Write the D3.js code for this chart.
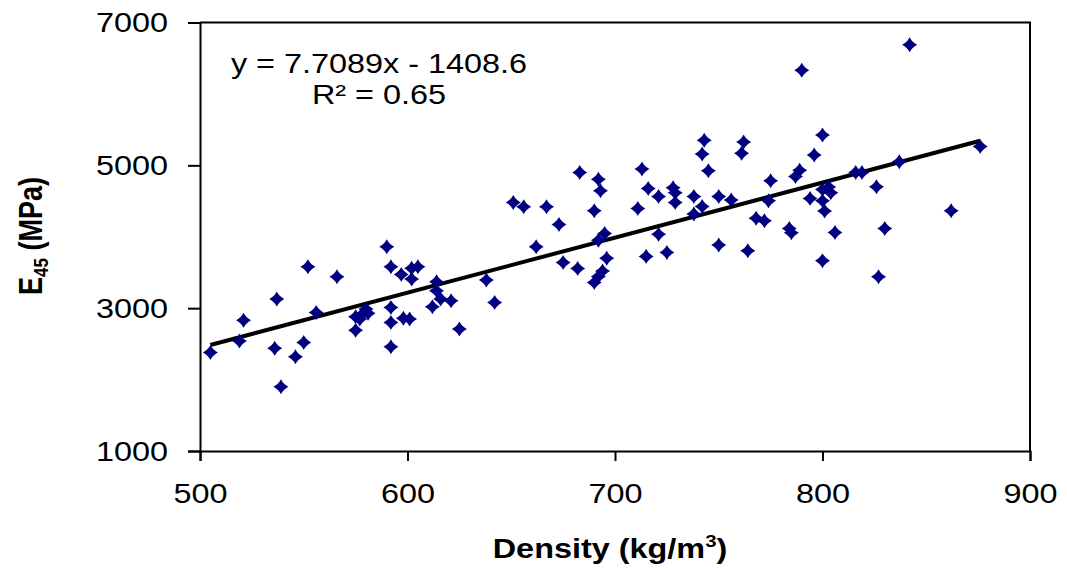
<!doctype html>
<html>
<head>
<meta charset="utf-8">
<title>E45 vs Density</title>
<script src="https://cdn.jsdelivr.net/npm/d3@7"></script>
<style>
  body { margin: 0; background: #fff; }
  text { font-family: "Liberation Sans", Arial, sans-serif; fill: #000; }
</style>
</head>
<body>
<svg id="chart" width="1067" height="569"></svg>
<script>
// density (kg/m3) and E45 (MPa)
var density = [505, 519, 521, 537, 536, 539, 546, 550, 552, 556,
  566, 575, 575, 577, 580, 581, 578, 590, 592, 592,
  592, 592, 597, 602, 605, 602, 598, 601, 614, 614,
  616, 612, 621, 625, 638, 642, 651, 656, 667, 673,
  662, 675, 682, 683, 692, 693, 690, 692, 695, 696,
  694, 692, 690, 713, 716, 721, 711, 721, 715, 725,
  728, 729, 729, 738, 742, 738, 743, 742, 745, 750,
  750, 762, 761, 756, 764, 775, 774, 768, 772, 796,
  800, 787, 789, 784, 785, 794, 800, 803, 804, 800,
  801, 806, 800, 816, 819, 826, 830, 827, 837, 876,
  862, 790, 842];
var e45 = [2380, 2540, 2830, 3130, 2440, 1900, 2320, 2520, 3580, 2940,
  3440, 2880, 2690, 2850, 2990, 2930, 2910, 3860, 3580, 3010,
  2800, 2460, 3470, 3560, 3580, 3410, 2860, 2850, 3370, 3245,
  3130, 3020, 3105, 2710, 3395, 3080, 4480, 4420, 4420, 4170,
  3860, 3640, 3555, 4900, 4805, 4645, 4365, 3950, 4045, 3700,
  3520, 3445, 3360, 4950, 4675, 4565, 4395, 4035, 3725, 3780,
  4685, 4617, 4480, 4565, 4425, 4320, 5350, 5157, 4925, 4565,
  3885, 5325, 5170, 4515, 3805, 4785, 4505, 4260, 4225, 5145,
  5425, 4845, 4930, 4115, 4055, 4535, 4660, 4695, 4615, 4505,
  4360, 4060, 3665, 4900, 4900, 4700, 4115, 3440, 5050, 5265,
  4365, 6330, 6690];

var xTicks = [500, 600, 700, 800, 900];
var yTicks = [1000, 3000, 5000, 7000];

// linear trendline as printed on the chart
var slope = 7.7089;
var intercept = -1408.6;
var eqLines = ["y = 7.7089x - 1408.6", "R² = 0.65"];

var svg = d3.select("#chart");
var sx = 1.2; // the picture's text is a bit wide

var x = d3.scaleLinear().domain([500, 900]).range([200, 1030]);
var y = d3.scaleLinear().domain([1000, 7000]).range([451, 22.5]);

// frame (top and right)
svg.append("path")
  .attr("d", "M" + x(500) + "," + y(7000) + "H" + x(900) + "V" + y(1000))
  .attr("fill", "none")
  .attr("stroke", "#000")
  .attr("stroke-width", 2);

var xAxis = svg.append("g")
  .attr("transform", "translate(0," + y(1000) + ")")
  .call(d3.axisBottom(x).tickValues(xTicks).tickSize(10).tickFormat(d3.format("d")));

var yAxis = svg.append("g")
  .attr("transform", "translate(" + x(500) + ",0)")
  .call(d3.axisLeft(y).tickValues(yTicks).tickSize(12).tickFormat(d3.format("d")));

[xAxis, yAxis].forEach(function (g) {
  g.select(".domain").attr("stroke", "#000").attr("stroke-width", 2);
  g.selectAll(".tick line").attr("stroke", "#000").attr("stroke-width", 2);
  g.selectAll(".tick text")
    .attr("font-family", "Liberation Sans, Arial, sans-serif")
    .attr("font-size", 27)
    .attr("fill", "#000");
});

xAxis.selectAll(".tick text")
  .attr("y", 0).attr("dy", null)
  .attr("transform", "translate(0,52) scale(" + sx + ",1)");

yAxis.selectAll(".tick text")
  .attr("x", 0).attr("dy", "0.35em")
  .attr("transform", "translate(-32,0) scale(" + sx + ",1)");

// trendline
var xMin = d3.min(density), xMax = d3.max(density);
svg.append("line")
  .attr("x1", x(xMin)).attr("y1", y(slope * xMin + intercept))
  .attr("x2", x(xMax)).attr("y2", y(slope * xMax + intercept))
  .attr("stroke", "#000")
  .attr("stroke-width", 4);

// concave diamond marker
var diamond = "M0,-7.5Q2.5,-2.5 7.5,0Q2.5,2.5 0,7.5Q-2.5,2.5 -7.5,0Q-2.5,-2.5 0,-7.5Z";
svg.append("g").selectAll("path")
  .data(density)
  .join("path")
  .attr("d", diamond)
  .attr("fill", "#000080")
  .attr("transform", function (d, i) {
    return "translate(" + x(d) + "," + y(e45[i]) + ")";
  });

// equation
svg.append("g").selectAll("text")
  .data(eqLines)
  .join("text")
  .attr("text-anchor", "middle")
  .attr("font-size", 27)
  .attr("transform", function (d, i) {
    return "translate(379," + (73 + i * 31) + ") scale(" + sx + ",1)";
  })
  .text(function (d) { return d; });

// axis titles
var xt = svg.append("text")
  .attr("text-anchor", "middle")
  .attr("font-size", 27)
  .attr("font-weight", "bold")
  .attr("transform", "translate(610,558) scale(" + sx + ",1)");
xt.append("tspan").text("Density (kg/m");
xt.append("tspan").attr("font-size", 17).attr("dy", -11).text("3");
xt.append("tspan").attr("dy", 11).text(")");

var yt = svg.append("text")
  .attr("text-anchor", "middle")
  .attr("font-size", 27)
  .attr("font-weight", "bold")
  .attr("transform", "translate(42,236) scale(" + sx + ",1) rotate(-90)");
yt.append("tspan").text("E");
yt.append("tspan").attr("font-size", 17).attr("dy", 5).text("45");
yt.append("tspan").attr("dy", -5).text(" (MPa)");
</script>
</body>
</html>
